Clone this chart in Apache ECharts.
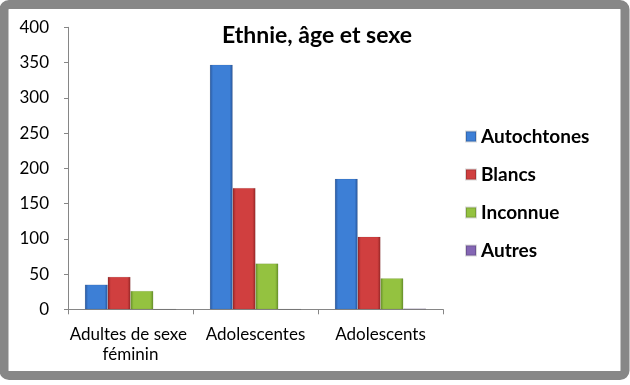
<!DOCTYPE html>
<html>
<head>
<meta charset="utf-8">
<script src="https://cdn.jsdelivr.net/npm/echarts@6/dist/echarts.min.js"></script>
<style>
html,body{margin:0;padding:0;background:#fff;}
#chart{width:630px;height:385px;}
</style>
</head>
<body>
<div id="chart"></div>
<script>
var categories = ['Adultes de sexe féminin', 'Adolescentes', 'Adolescents'];
var seriesNames = ['Autochtones', 'Blancs', 'Inconnue', 'Autres'];
var autochtones = [35, 347, 185];
var blancs = [46, 172, 103];
var inconnue = [26, 65, 44];
var autres = [0, 0, 1];
var yTicks = [0, 50, 100, 150, 200, 250, 300, 350, 400];

var FONT = 'Lato';
function grad(edge, mid) {
  return new echarts.graphic.LinearGradient(0, 0, 1, 0, [
    {offset: 0, color: edge},
    {offset: 0.14, color: mid},
    {offset: 0.86, color: mid},
    {offset: 1, color: edge}
  ]);
}
var palettes = [
  grad('#28559a', '#3d7fd6'),
  grad('#962626', '#d03f3f'),
  grad('#66902a', '#94c240'),
  grad('#573c84', '#8466b4')
];
var values = [autochtones, blancs, inconnue, autres];

var chart = echarts.init(document.getElementById('chart'), null, {renderer: 'canvas'});
chart.setOption({
  animation: false,
  backgroundColor: '#ffffff',
  title: {
    text: 'Ethnie, âge et sexe',
    left: 312, top: 19, textAlign: 'center',
    textStyle: {fontFamily: FONT, fontWeight: 'bold', fontSize: 23, color: '#000'}
  },
  legend: {
    orient: 'vertical',
    left: 460, top: 122,
    itemWidth: 10, itemHeight: 10, itemGap: 19,
    icon: 'rect',
    data: seriesNames,
    textStyle: {fontFamily: FONT, fontWeight: 'bold', fontSize: 19, color: '#000'}
  },
  grid: {left: 68, right: 187, top: 27.3, bottom: 75.7, containLabel: false},
  xAxis: {
    type: 'category',
    data: categories,
    boundaryGap: true,
    axisLine: {lineStyle: {color: '#868686'}},
    axisTick: {show: true, length: 5, lineStyle: {color: '#868686'}},
    axisLabel: {
      fontFamily: FONT, fontSize: 17, color: '#000', margin: 15,
      width: 128, overflow: 'break', lineHeight: 20, interval: 0
    }
  },
  yAxis: {
    type: 'value',
    min: yTicks[0], max: yTicks[yTicks.length - 1], interval: 50,
    axisLine: {show: true, lineStyle: {color: '#868686'}},
    axisTick: {show: true, length: 4, lineStyle: {color: '#868686'}},
    splitLine: {show: false},
    axisLabel: {fontFamily: FONT, fontSize: 17, color: '#000', margin: 19}
  },
  graphic: [{
    type: 'rect',
    shape: {x: 4, y: 4.5, width: 621, height: 371, r: 5},
    style: {fill: 'none', stroke: '#878787', lineWidth: 9},
    z: 100
  }],
  series: seriesNames.map(function (n, i) {
    return {
      name: n, type: 'bar',
      data: values[i],
      barGap: '0%', barCategoryGap: '27%',
      itemStyle: {color: palettes[i], borderColor: 'rgba(0,0,0,0.15)', borderWidth: 0.5}
    };
  })
});
</script>
</body>
</html>
